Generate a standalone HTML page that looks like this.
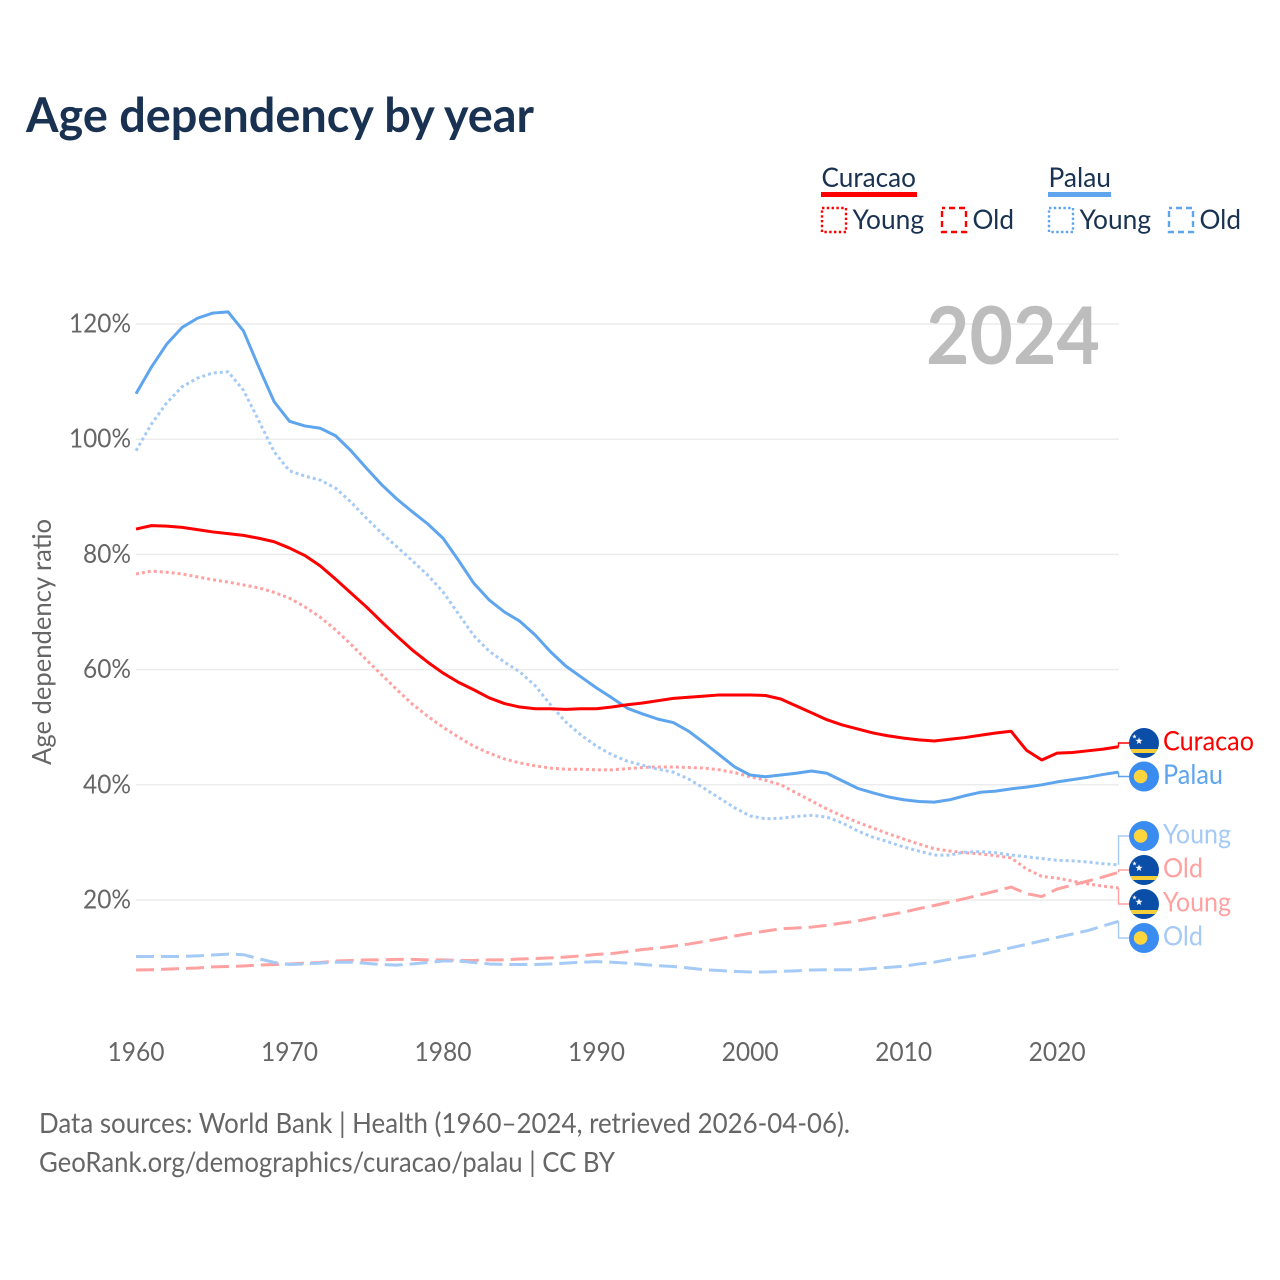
<!DOCTYPE html>
<html lang="en">
<head>
<meta charset="utf-8">
<title>Age dependency by year</title>
<style>
  html, body { margin: 0; padding: 0; background: #fff; }
  svg { display: block; font-family: "Lato", "Carlito", "Liberation Sans", sans-serif; }
</style>
</head>
<body>
<svg id="chart" xmlns="http://www.w3.org/2000/svg" width="1280" height="1280" viewBox="0 0 1280 1280">
  <rect x="0" y="0" width="1280" height="1280" fill="#ffffff"/>
  <text x="26" y="132" font-size="48" font-weight="700" fill="#1a3252" textLength="508" lengthAdjust="spacingAndGlyphs">Age dependency by year</text>

  <g font-size="27.5" fill="#1a3252">
    <text x="821.5" y="187" textLength="94.5" lengthAdjust="spacingAndGlyphs">Curacao</text>
    <rect x="821" y="192" width="96" height="5" fill="#ff0000"/>
    <rect x="822" y="208" width="24" height="24" fill="none" stroke="#ff0000" stroke-width="2.4" stroke-dasharray="2.4 2.4"/>
    <text x="852.5" y="229" textLength="71.5" lengthAdjust="spacingAndGlyphs">Young</text>
    <rect x="942" y="208" width="24" height="24" fill="none" stroke="#ff0000" stroke-width="2.4" stroke-dasharray="6 4" stroke-dashoffset="3"/>
    <text x="972.5" y="229" textLength="41.5" lengthAdjust="spacingAndGlyphs">Old</text>
    <text x="1048.5" y="187" textLength="62.5" lengthAdjust="spacingAndGlyphs">Palau</text>
    <rect x="1048" y="192" width="63" height="5" fill="#5ea5ee"/>
    <rect x="1049" y="208" width="24" height="24" fill="none" stroke="#5ea5ee" stroke-width="2.4" stroke-dasharray="2.4 2.4"/>
    <text x="1079.5" y="229" textLength="71.5" lengthAdjust="spacingAndGlyphs">Young</text>
    <rect x="1169" y="208" width="24" height="24" fill="none" stroke="#5ea5ee" stroke-width="2.4" stroke-dasharray="6 4" stroke-dashoffset="3"/>
    <text x="1199.5" y="229" textLength="41.5" lengthAdjust="spacingAndGlyphs">Old</text>
  </g>

  <g id="grid"></g>
  <g id="y-ticks" font-size="26.5" fill="#666666"></g>
  <g id="x-ticks" font-size="26.5" fill="#666666"></g>

  <text transform="translate(51 642) rotate(-90)" text-anchor="middle" font-size="26.5" fill="#666666" textLength="246" lengthAdjust="spacingAndGlyphs">Age dependency ratio</text>
  <text x="926" y="364" font-size="80" font-weight="700" fill="#bdbdbd" textLength="174" lengthAdjust="spacingAndGlyphs">2024</text>

  <g id="series" fill="none" stroke-linejoin="round"></g>
  <g id="end-labels"></g>

  <g font-size="28" fill="#666666">
    <text x="39" y="1133" textLength="811" lengthAdjust="spacingAndGlyphs">Data sources: World Bank | Health (1960–2024, retrieved 2026-04-06).</text>
    <text x="39" y="1172" textLength="576" lengthAdjust="spacingAndGlyphs">GeoRank.org/demographics/curacao/palau | CC BY</text>
  </g>
</svg>

<script>
var startYear = 1960;
var yTickValues = [20, 40, 60, 80, 100, 120];
var xTickValues = [1960, 1970, 1980, 1990, 2000, 2010, 2020];

var palauTotal = [107.9,112.5,116.5,119.4,121.0,121.9,122.1,118.8,112.5,106.5,103.1,102.3,101.9,100.6,98.0,95.0,92.1,89.6,87.4,85.3,82.8,79.0,75.0,72.1,70.0,68.4,66.0,63.1,60.6,58.7,56.8,55.1,53.3,52.3,51.4,50.8,49.3,47.3,45.2,43.1,41.7,41.4,41.7,42.0,42.4,42.0,40.7,39.4,38.6,37.9,37.4,37.1,37.0,37.4,38.1,38.7,38.9,39.3,39.6,40.0,40.5,40.9,41.3,41.8,42.2];
var curacaoTotal = [84.4,85.0,84.9,84.7,84.3,83.9,83.6,83.3,82.8,82.2,81.1,79.8,78.0,75.7,73.3,70.9,68.3,65.8,63.4,61.3,59.4,57.8,56.5,55.1,54.1,53.5,53.2,53.2,53.1,53.2,53.2,53.5,53.9,54.2,54.6,55.0,55.2,55.4,55.6,55.6,55.6,55.5,54.9,53.7,52.5,51.3,50.4,49.7,49.0,48.5,48.1,47.8,47.6,47.9,48.2,48.6,49.0,49.3,46.0,44.3,45.5,45.6,45.9,46.2,46.6];
var palauYoung = [98.0,102.6,106.3,109.1,110.6,111.5,111.7,108.5,103.2,97.8,94.5,93.6,92.9,91.5,89.1,86.3,83.7,81.3,78.9,76.4,73.5,69.7,65.9,63.2,61.3,59.6,57.2,53.9,50.9,48.6,46.7,45.2,44.1,43.4,42.7,42.2,41.0,39.4,37.7,36.0,34.6,34.1,34.2,34.5,34.7,34.4,33.4,32.0,30.9,30.1,29.2,28.5,27.8,27.8,28.3,28.4,28.2,27.8,27.5,27.2,26.9,26.8,26.6,26.3,26.1];
var curacaoYoung = [76.6,77.1,76.9,76.6,76.1,75.6,75.2,74.7,74.2,73.4,72.4,70.9,69.1,66.9,64.4,61.7,59.1,56.5,54.0,51.9,50.0,48.3,46.7,45.5,44.5,43.8,43.3,42.9,42.7,42.7,42.6,42.6,42.8,43.0,43.1,43.1,43.0,42.9,42.6,42.1,41.4,40.8,40.0,38.6,37.2,35.8,34.6,33.5,32.5,31.5,30.6,29.7,28.9,28.5,28.2,28.0,27.7,27.3,25.4,24.1,23.8,23.3,22.8,22.4,22.1];
var palauOld = [10.2,10.2,10.2,10.2,10.3,10.45,10.6,10.5,9.8,9.15,8.8,8.9,9.05,9.2,9.2,9.0,8.8,8.7,8.9,9.15,9.4,9.4,9.15,8.9,8.8,8.8,8.8,8.9,9.05,9.2,9.3,9.2,9.05,8.8,8.6,8.45,8.2,7.9,7.75,7.6,7.5,7.5,7.6,7.7,7.85,7.9,7.9,7.9,8.1,8.3,8.5,8.9,9.2,9.7,10.1,10.5,11.1,11.7,12.3,12.9,13.5,14.1,14.7,15.5,16.3];
var curacaoOld = [7.85,7.9,8.0,8.1,8.2,8.4,8.45,8.55,8.7,8.8,8.9,9.05,9.15,9.4,9.5,9.6,9.6,9.7,9.7,9.6,9.6,9.5,9.5,9.6,9.6,9.75,9.85,9.95,10.1,10.3,10.55,10.7,11.05,11.4,11.65,12.0,12.35,12.8,13.25,13.75,14.2,14.6,15.0,15.15,15.3,15.6,16.0,16.35,16.9,17.4,17.9,18.5,19.05,19.65,20.25,20.9,21.55,22.25,21.1,20.6,21.9,22.6,23.3,24.0,24.8];

var SVG_NS = 'http://www.w3.org/2000/svg';
var RED = '#ff0000', BLUE = '#5ea5ee', LIGHT_RED = '#ffa1a1', LIGHT_BLUE = '#a5caf5';
var plotLeft = 136, plotRight = 1119;

function xScale(year) { return plotLeft + (year - startYear) * 15.352; }
function yScale(value) { return 1015.2 - value * 5.76; }

function make(tag, parent, attrs) {
  var el = document.createElementNS(SVG_NS, tag);
  for (var k in attrs) el.setAttribute(k, attrs[k]);
  parent.appendChild(el);
  return el;
}

var gridGroup = document.getElementById('grid');
var yTickGroup = document.getElementById('y-ticks');
yTickValues.forEach(function (v) {
  var line = make('line', gridGroup, { x1: plotLeft, x2: plotRight, y1: yScale(v), y2: yScale(v), stroke: '#ececec', 'stroke-width': 1.5 });
  
  
  var width = v >= 100 ? 62 : 48;
  var label = make('text', yTickGroup, { x: 131 - width, y: yScale(v) + 8.5, textLength: width, lengthAdjust: 'spacingAndGlyphs' });
  label.textContent = v + '%';
  
  
});

var xTickGroup = document.getElementById('x-ticks');
xTickValues.forEach(function (year) {
  var label = make('text', xTickGroup, { x: xScale(year) - 28.5, y: 1061, textLength: 57, lengthAdjust: 'spacingAndGlyphs' });
  label.textContent = String(year);
  
  
});

var seriesGroup = document.getElementById('series');
function drawLine(values, color, dash, name) {
  var d = values.map(function (v, i) {
    return (i ? 'L' : 'M') + xScale(startYear + i).toFixed(2) + ' ' + yScale(v).toFixed(2);
  }).join(' ');
  var path = make('path', seriesGroup, { d: d, stroke: color, 'stroke-width': 3 });
  if (dash) path.setAttribute('stroke-dasharray', dash);
  
  
}
drawLine(curacaoOld, LIGHT_RED, '18 7', 'line-curacao-old');
drawLine(palauOld, LIGHT_BLUE, '18 7', 'line-palau-old');
drawLine(curacaoYoung, LIGHT_RED, '3 3', 'line-curacao-young');
drawLine(palauYoung, LIGHT_BLUE, '3 3', 'line-palau-young');
drawLine(palauTotal, BLUE, null, 'line-palau-total');
drawLine(curacaoTotal, RED, null, 'line-curacao-total');

var labelGroup = document.getElementById('end-labels');
var defs = make('defs', labelGroup, {});
var clipCounter = 0;

function starPoints(cx, cy, r) {
  var pts = [];
  for (var i = 0; i < 10; i++) {
    var rad = i % 2 ? r * 0.4 : r;
    var a = -Math.PI / 2 + i * Math.PI / 5;
    pts.push((cx + rad * Math.cos(a)).toFixed(2) + ',' + (cy + rad * Math.sin(a)).toFixed(2));
  }
  return pts.join(' ');
}

function drawFlag(country, cy) {
  var cx = 1144;
  var g = make('g', labelGroup, {});
  
  
  if (country === 'curacao') {
    clipCounter += 1;
    var clip = make('clipPath', defs, { id: 'flag-clip-' + clipCounter });
    make('circle', clip, { cx: cx, cy: cy, r: 15 });
    var inner = make('g', g, { 'clip-path': 'url(#flag-clip-' + clipCounter + ')' });
    make('rect', inner, { x: cx - 15, y: cy - 15, width: 30, height: 30, fill: '#0a4ea8' });
    make('rect', inner, { x: cx - 15, y: cy + 6, width: 30, height: 4, fill: '#f5cf3a' });
    make('polygon', inner, { points: starPoints(cx - 5, cy - 2, 3.8), fill: '#ffffff' });
    make('polygon', inner, { points: starPoints(cx - 9.5, cy - 6.5, 2.4), fill: '#ffffff' });
  } else {
    make('circle', g, { cx: cx, cy: cy, r: 15, fill: '#3a8cf0' });
    make('circle', g, { cx: cx - 3.4, cy: cy, r: 6.8, fill: '#ffd53d' });
  }
}

function drawEndLabel(values, country, text, color, connectorColor, labelY, textWidth, name) {
  var ey = yScale(values[values.length - 1]);
  var ex = xScale(startYear + values.length - 1);
  var connector = make('path', labelGroup, {
    d: 'M' + ex.toFixed(2) + ' ' + ey.toFixed(2) + ' L' + ex.toFixed(2) + ' ' + labelY + ' L1129 ' + labelY,
    fill: 'none', stroke: connectorColor, 'stroke-width': 1.4
  });
  
  
  drawFlag(country, labelY);
  var label = make('text', labelGroup, { x: 1163, y: labelY + 7.5, 'font-size': 27.5, fill: color, textLength: textWidth, lengthAdjust: 'spacingAndGlyphs' });
  label.textContent = text;
  
  
}

drawEndLabel(curacaoTotal, 'curacao', 'Curacao', RED, RED, 743, 91, 'curacao-total');
drawEndLabel(palauTotal, 'palau', 'Palau', BLUE, BLUE, 776.5, 60, 'palau-total');
drawEndLabel(palauYoung, 'palau', 'Young', LIGHT_BLUE, LIGHT_BLUE, 836, 68, 'palau-young');
drawEndLabel(curacaoOld, 'curacao', 'Old', LIGHT_RED, LIGHT_RED, 870, 40, 'curacao-old');
drawEndLabel(curacaoYoung, 'curacao', 'Young', LIGHT_RED, LIGHT_RED, 904, 68, 'curacao-young');
drawEndLabel(palauOld, 'palau', 'Old', LIGHT_BLUE, LIGHT_BLUE, 938, 40, 'palau-old');
</script>
</body>
</html>
